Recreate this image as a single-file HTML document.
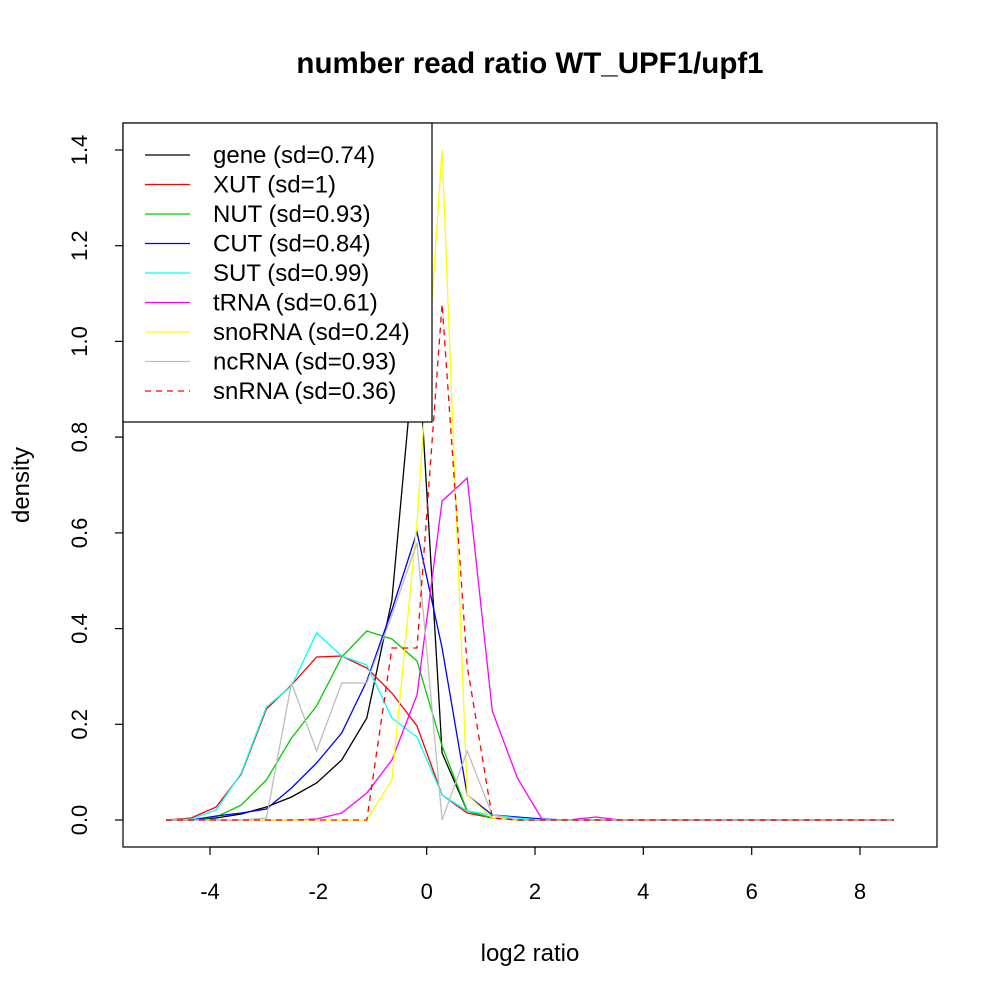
<!DOCTYPE html>
<html><head><meta charset="utf-8"><style>body{margin:0;background:#fff}svg{display:block}</style></head><body>
<svg width="1000" height="1000" xmlns="http://www.w3.org/2000/svg" font-family="Liberation Sans, sans-serif">
<rect width="1000" height="1000" fill="#fff"/>
<text x="530" y="73" font-size="29.5" font-weight="bold" text-anchor="middle">number read ratio WT_UPF1/upf1</text>
<g fill="none" stroke-width="1.3">
<polyline stroke="#000" points="166,820 191.1,820 216.2,818 241.3,814 266.4,807 291.5,797 316.6,783 341.7,760 366.8,718 391.9,600 417,325 442.1,753 467.2,811 492.3,818 517.4,820 894,820"/>
<polyline stroke="#ff0000" points="166,820 191.1,818 216.2,807 241.3,774 266.4,709 291.5,685 316.6,657 341.7,656 366.8,668 391.9,693 417,726 442.1,795 467.2,813 492.3,818 517.4,820 894,820"/>
<polyline stroke="#00cd00" points="166,820 191.1,820 216.2,817 241.3,805 266.4,780 291.5,738 316.6,706 341.7,657 366.8,631 391.9,639 417,661 442.1,746 467.2,811 492.3,818 517.4,820 894,820"/>
<polyline stroke="#0000ff" points="166,820 191.1,820 216.2,816 241.3,813 266.4,809 291.5,788 316.6,763 341.7,733 366.8,681 391.9,610 417,532 442.1,648 467.2,795 492.3,815 517.4,817 542.5,819 567.6,820 894,820"/>
<polyline stroke="#00ffff" points="166,820 191.1,819 216.2,810 241.3,773 266.4,707 291.5,686 316.6,633 341.7,656 366.8,665 391.9,718 417,737 442.1,795 467.2,811 492.3,815 517.4,818 542.5,820 894,820"/>
<polyline stroke="#ff00ff" points="166,820 291.5,820 316.6,819 341.7,813 366.8,793 391.9,760 417,695 442.1,501 467.2,478 492.3,711 517.4,778 542.5,820 567.6,820 596,817 620,820 894,820"/>
<polyline stroke="#ffff00" points="166,820 366.8,820 391.9,780 417,523 442.1,150 467.2,795 492.3,818 517.4,820 894,820"/>
<polyline stroke="#bebebe" points="166,820 241.3,820 266.4,818 291.5,683 316.6,751 341.7,683 366.8,683 391.9,615 417,543 442.1,820 467.2,751 492.3,815 517.4,820 894,820"/>
<polyline stroke="#ff0000" stroke-dasharray="6,5" points="166,820 366.8,820 391.9,648 417,648 442.1,304 467.2,666 492.3,818 517.4,820 894,820"/>
</g>
<rect x="123" y="123" width="814" height="724" fill="none" stroke="#000" stroke-width="1.2"/>
<g stroke="#000" stroke-width="1.2">
<line x1="210" y1="847" x2="860" y2="847"/>
<line x1="210" y1="847" x2="210" y2="855"/><line x1="318.3" y1="847" x2="318.3" y2="855"/><line x1="426.7" y1="847" x2="426.7" y2="855"/><line x1="535" y1="847" x2="535" y2="855"/><line x1="643.3" y1="847" x2="643.3" y2="855"/><line x1="751.7" y1="847" x2="751.7" y2="855"/><line x1="860" y1="847" x2="860" y2="855"/>
<line x1="123" y1="820" x2="123" y2="150"/>
<line x1="115" y1="820" x2="123" y2="820"/><line x1="115" y1="724.3" x2="123" y2="724.3"/><line x1="115" y1="628.6" x2="123" y2="628.6"/><line x1="115" y1="532.9" x2="123" y2="532.9"/><line x1="115" y1="437.1" x2="123" y2="437.1"/><line x1="115" y1="341.4" x2="123" y2="341.4"/><line x1="115" y1="245.7" x2="123" y2="245.7"/><line x1="115" y1="150" x2="123" y2="150"/>
</g>
<g font-size="22" text-anchor="middle">
<text x="210" y="899">-4</text><text x="318.3" y="899">-2</text><text x="426.7" y="899">0</text><text x="535" y="899">2</text><text x="643.3" y="899">4</text><text x="751.7" y="899">6</text><text x="860" y="899">8</text>
<text transform="translate(87,820) rotate(-90)">0.0</text>
<text transform="translate(87,724.3) rotate(-90)">0.2</text>
<text transform="translate(87,628.6) rotate(-90)">0.4</text>
<text transform="translate(87,532.9) rotate(-90)">0.6</text>
<text transform="translate(87,437.1) rotate(-90)">0.8</text>
<text transform="translate(87,341.4) rotate(-90)">1.0</text>
<text transform="translate(87,245.7) rotate(-90)">1.2</text>
<text transform="translate(87,150) rotate(-90)">1.4</text>
</g>
<g font-size="24" text-anchor="middle">
<text x="530" y="961">log2 ratio</text>
<text transform="translate(29,485) rotate(-90)">density</text>
</g>
<rect x="123" y="123" width="309" height="299" fill="#fff" stroke="#000" stroke-width="1.2"/>
<g stroke-width="1.3">
<line x1="145" x2="190" y1="155" y2="155" stroke="#000"/>
<line x1="145" x2="190" y1="184.5" y2="184.5" stroke="#ff0000"/>
<line x1="145" x2="190" y1="214" y2="214" stroke="#00cd00"/>
<line x1="145" x2="190" y1="243.5" y2="243.5" stroke="#0000ff"/>
<line x1="145" x2="190" y1="273" y2="273" stroke="#00ffff"/>
<line x1="145" x2="190" y1="302.5" y2="302.5" stroke="#ff00ff"/>
<line x1="145" x2="190" y1="332" y2="332" stroke="#ffff00"/>
<line x1="145" x2="190" y1="361.5" y2="361.5" stroke="#bebebe"/>
<line x1="145" x2="190" y1="391" y2="391" stroke="#ff0000" stroke-dasharray="6,5"/>
</g>
<g font-size="24">
<text x="213" y="163">gene (sd=0.74)</text>
<text x="213" y="192.5">XUT (sd=1)</text>
<text x="213" y="222">NUT (sd=0.93)</text>
<text x="213" y="251.5">CUT (sd=0.84)</text>
<text x="213" y="281">SUT (sd=0.99)</text>
<text x="213" y="310.5">tRNA (sd=0.61)</text>
<text x="213" y="340">snoRNA (sd=0.24)</text>
<text x="213" y="369.5">ncRNA (sd=0.93)</text>
<text x="213" y="399">snRNA (sd=0.36)</text>
</g>
</svg>
</body></html>
